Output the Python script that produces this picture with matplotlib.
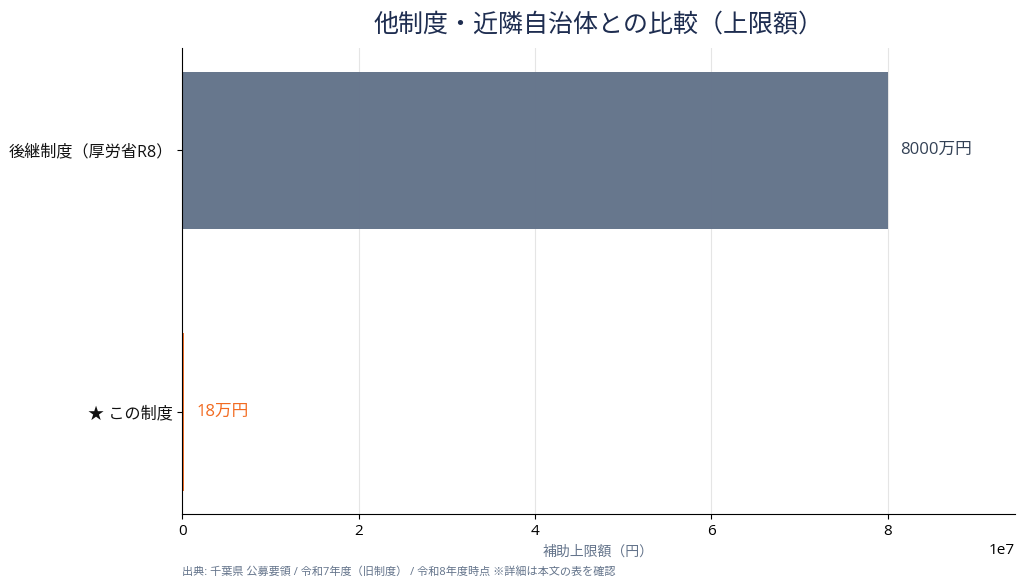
import matplotlib
matplotlib.use('Agg')
import matplotlib.pyplot as plt

plt.rcParams['font.family'] = ['Open Sans', 'Noto Sans CJK JP', 'DejaVu Sans']

# data (bottom to top)
labels = ['★ この制度', '後継制度（厚労省R8）']
values = [180000, 80000000]
value_texts = ['18万円', '8000万円']
bar_colors = ['#f26b21', '#64748b']
text_colors = ['#f26b21', '#334155']

fig, ax = plt.subplots(figsize=(10.24, 5.85), dpi=100)
fig.subplots_adjust(left=0.178, right=0.991, top=0.918, bottom=0.121)

pos = range(len(values))
ax.barh(pos, values, height=0.6, color=bar_colors, alpha=0.98, zorder=2)
ax.set_yticks(list(pos))
ax.set_yticklabels(labels, fontsize=11.6, color='#111111')

# value labels next to the bars
xmax = max(values) * 1.18
for i, v in enumerate(values):
    ax.text(v + xmax * 0.015, i, value_texts[i], va='center', ha='left',
            fontsize=12, color=text_colors[i])

ax.set_xlim(0, xmax)
ax.set_ylim(-0.39, 1.39)
ax.grid(axis='x', color='#e5e5e5', linewidth=0.8, zorder=0)
ax.set_axisbelow(True)
for s in ['top', 'right']:
    ax.spines[s].set_visible(False)
ax.tick_params(axis='x', labelsize=11)
ax.xaxis.get_offset_text().set_fontsize(11)
ax.set_xlabel('補助上限額（円）', fontsize=10, color='#64748b')
ax.set_title('他制度・近隣自治体との比較（上限額）', fontsize=18, color='#1e2d50', pad=12)

fig.text(0.178, 0.012, '出典: 千葉県 公募要領 / 令和7年度（旧制度） / 令和8年度時点 ※詳細は本文の表を確認',
         fontsize=8, color='#64748b', ha='left', va='bottom')

fig.savefig('out.png', dpi=100)
